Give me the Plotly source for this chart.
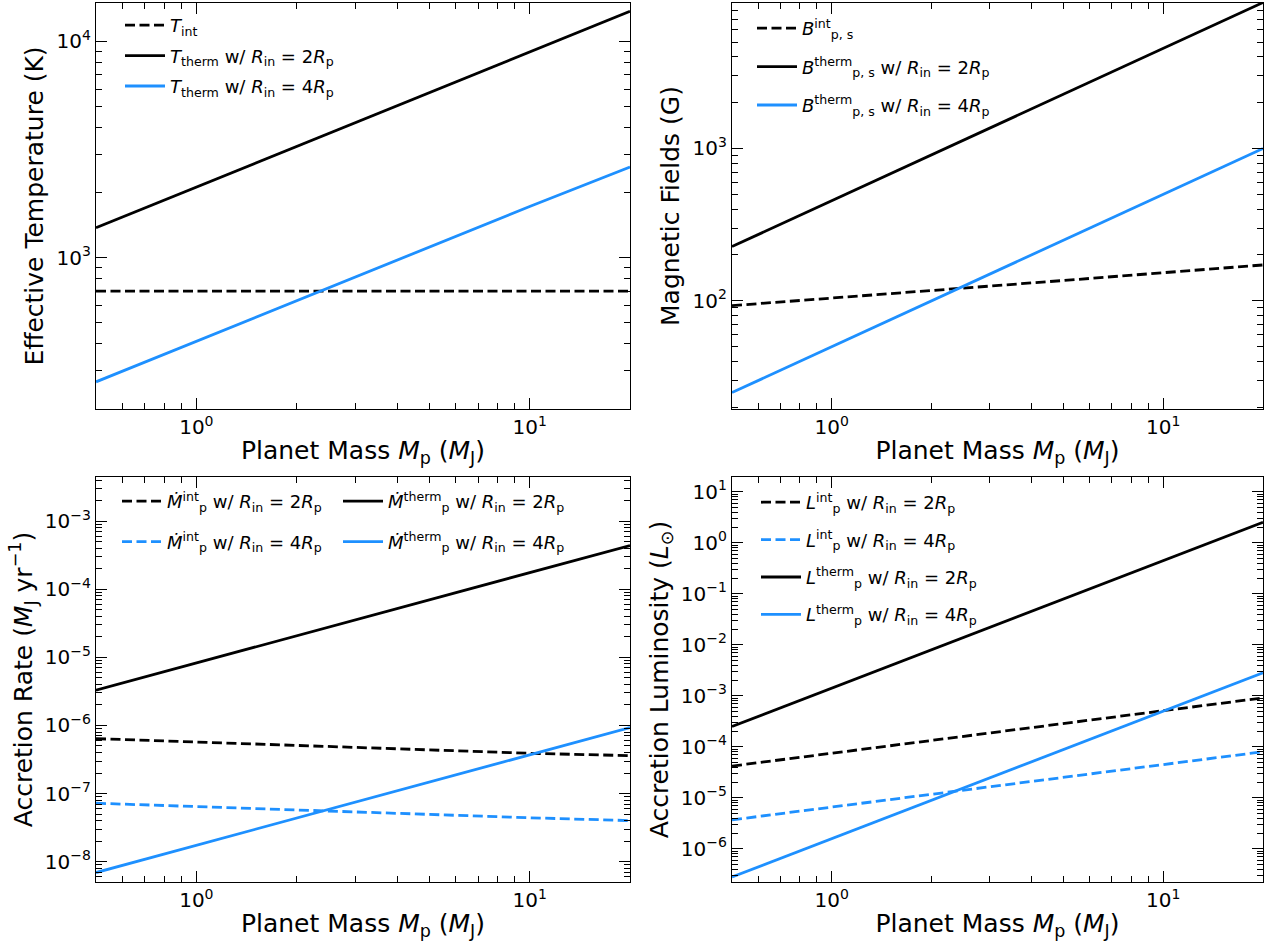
import plotly.graph_objects as go
import numpy as np

# ---------------- data ----------------
mass = [0.5, 1, 2, 5, 10, 20]

T_int = [700, 700, 700, 700, 700, 700]
T_therm_2 = [1374, 2120, 3270, 5780, 8910, 13740]
T_therm_4 = [267, 411, 632, 1119, 1722, 2620]

B_int = [93, 104, 117, 136, 153, 172]
B_therm_2 = [227, 454, 908, 2270, 4540, 9080]
B_therm_4 = [25, 50, 100, 250, 500, 1000]

Mdot_int_2 = [6.4e-7, 5.7e-7, 5.1e-7, 4.4e-7, 3.9e-7, 3.6e-7]
Mdot_int_4 = [7.2e-8, 6.4e-8, 5.7e-8, 4.9e-8, 4.4e-8, 4.0e-8]
Mdot_therm_2 = [3.3e-6, 8.3e-6, 2.1e-5, 7.0e-5, 1.76e-4, 4.4e-4]
Mdot_therm_4 = [6.9e-9, 1.74e-8, 4.4e-8, 1.47e-7, 3.7e-7, 9.3e-7]

L_int_2 = [4.2e-5, 7.5e-5, 1.33e-4, 2.86e-4, 5.1e-4, 9.1e-4]
L_int_4 = [3.7e-6, 6.6e-6, 1.17e-5, 2.52e-5, 4.5e-5, 8.0e-5]
L_therm_2 = [2.5e-4, 1.41e-3, 8.0e-3, 7.9e-2, 0.447, 2.53]
L_therm_4 = [2.8e-7, 1.58e-6, 8.96e-6, 8.85e-5, 5.0e-4, 2.83e-3]

x_ticks = [1, 10]
x_ticktext = ["10<sup>0</sup>", "10<sup>1</sup>"]

BLACK = "black"
BLUE = "#1E90FF"
FONT = "DejaVu Sans"
W, H = 1265, 941

fig = go.Figure()
_count = [0]

def add(x, y, color, dash, name, xa, ya, legend):
    _count[0] += 1
    fig.add_trace(go.Scatter(
        x=x, y=y, mode="lines", name=name,
        line=dict(color=color, width=2.8, dash=("10px,4.5px" if dash else "solid")),
        xaxis=xa, yaxis=ya, legend=legend, legendgroup="g%d" % _count[0], showlegend=True))

# panel 1
add(mass, T_int, BLACK, True, "<i>T</i><sub>int</sub>", "x", "y", "legend")
add(mass, T_therm_2, BLACK, False, "<i>T</i><sub>therm</sub> w/ <i>R</i><sub>in</sub> = 2<i>R</i><sub>p</sub>", "x", "y", "legend")
add(mass, T_therm_4, BLUE, False, "<i>T</i><sub>therm</sub> w/ <i>R</i><sub>in</sub> = 4<i>R</i><sub>p</sub>", "x", "y", "legend")
# panel 2
add(mass, B_int, BLACK, True, "<i>B</i><sup>int</sup><sub>p, s</sub>", "x2", "y2", "legend2")
add(mass, B_therm_2, BLACK, False, "<i>B</i><sup>therm</sup><sub>p, s</sub> w/ <i>R</i><sub>in</sub> = 2<i>R</i><sub>p</sub>", "x2", "y2", "legend2")
add(mass, B_therm_4, BLUE, False, "<i>B</i><sup>therm</sup><sub>p, s</sub> w/ <i>R</i><sub>in</sub> = 4<i>R</i><sub>p</sub>", "x2", "y2", "legend2")
# panel 3
add(mass, Mdot_int_2, BLACK, True, "<i>Ṁ</i><sup>int</sup><sub>p</sub> w/ <i>R</i><sub>in</sub> = 2<i>R</i><sub>p</sub>", "x3", "y3", "legend3")
add(mass, Mdot_int_4, BLUE, True, "<i>Ṁ</i><sup>int</sup><sub>p</sub> w/ <i>R</i><sub>in</sub> = 4<i>R</i><sub>p</sub>", "x3", "y3", "legend3")
add(mass, Mdot_therm_2, BLACK, False, "<i>Ṁ</i><sup>therm</sup><sub>p</sub> w/ <i>R</i><sub>in</sub> = 2<i>R</i><sub>p</sub>", "x3", "y3", "legend4")
add(mass, Mdot_therm_4, BLUE, False, "<i>Ṁ</i><sup>therm</sup><sub>p</sub> w/ <i>R</i><sub>in</sub> = 4<i>R</i><sub>p</sub>", "x3", "y3", "legend4")
# panel 4
add(mass, L_int_2, BLACK, True, "<i>L</i><sup>int</sup><sub>p</sub> w/ <i>R</i><sub>in</sub> = 2<i>R</i><sub>p</sub>", "x4", "y4", "legend5")
add(mass, L_int_4, BLUE, True, "<i>L</i><sup>int</sup><sub>p</sub> w/ <i>R</i><sub>in</sub> = 4<i>R</i><sub>p</sub>", "x4", "y4", "legend5")
add(mass, L_therm_2, BLACK, False, "<i>L</i><sup>therm</sup><sub>p</sub> w/ <i>R</i><sub>in</sub> = 2<i>R</i><sub>p</sub>", "x4", "y4", "legend5")
add(mass, L_therm_4, BLUE, False, "<i>L</i><sup>therm</sup><sub>p</sub> w/ <i>R</i><sub>in</sub> = 4<i>R</i><sub>p</sub>", "x4", "y4", "legend5")

def minors(lo, hi):
    out = []
    for e in range(int(np.floor(lo)) - 1, int(np.ceil(hi)) + 1):
        for m in range(2, 10):
            out.append(m * 10.0 ** e)
    return out

def sup(e):
    return "10<sup>" + (str(e) if e >= 0 else "\u2212" + str(-e)) + "</sup>"

TITLE_FONT = dict(family=FONT, size=25, color="black")
TICK_FONT = dict(family=FONT, size=20, color="black")
MINOR = dict(ticks="inside", ticklen=5.5, tickwidth=1, tickcolor="black", showgrid=False)

def xaxis(dom, anchor):
    return dict(type="log", domain=dom, anchor=anchor, range=[np.log10(0.5), np.log10(20)],
                tickvals=x_ticks, ticktext=x_ticktext, ticks="inside", ticklen=10.5, tickwidth=1.2,
                tickcolor="black", showline=True, linecolor="black", linewidth=1.3, mirror="allticks",
                showgrid=False, zeroline=False, tickfont=TICK_FONT,
                minor=dict(tickvals=minors(-1, 2), **MINOR),
                title=dict(text="Planet Mass <i>M</i><sub>p</sub> (<i>M</i><sub>J</sub>)",
                           font=TITLE_FONT, standoff=3),
                automargin=False)

def yaxis(dom, anchor, lo, hi, exps, title):
    return dict(type="log", domain=dom, anchor=anchor, range=[lo, hi],
                tickvals=[10.0 ** e for e in exps], ticktext=[sup(e) for e in exps],
                ticks="inside", ticklen=10.5, tickwidth=1.2, tickcolor="black",
                showline=True, linecolor="black", linewidth=1.3, mirror="allticks",
                showgrid=False, zeroline=False, tickfont=TICK_FONT,
                minor=dict(tickvals=minors(lo, hi), **MINOR),
                title=dict(text=title, font=TITLE_FONT, standoff=5),
                automargin=False)

xl = [96 / W, 630 / W]
xr = [732 / W, 1263 / W]
yt = [1 - 409 / H, 1 - 3 / H]
yb = [1 - 882 / H, 1 - 477 / H]

def leg(x, y, gap):
    return dict(x=x / W, y=1 - y / H, font=dict(family=FONT, size=18, color="black"),
                bgcolor="rgba(0,0,0,0)", xanchor="left", yanchor="top",
                tracegroupgap=gap, itemwidth=40)

fig.update_layout(
    width=W, height=H, margin=dict(l=0, r=0, t=0, b=0),
    paper_bgcolor="white", plot_bgcolor="white",
    font=dict(family=FONT, color="black"),
    xaxis=xaxis(xl, "y"), yaxis=yaxis(yt, "x", np.log10(200), np.log10(15000), [3, 4], "Effective Temperature (K)"),
    xaxis2=xaxis(xr, "y2"), yaxis2=yaxis(yt, "x2", 1.29, 3.955, [2, 3], "Magnetic Fields (G)"),
    xaxis3=xaxis(xl, "y3"), yaxis3=yaxis(yb, "x3", -8.3, -2.35, [-8, -7, -6, -5, -4, -3],
                                         "Accretion Rate (<i>M</i><sub>J</sub> yr<sup>\u22121</sup>)"),
    xaxis4=xaxis(xr, "y4"), yaxis4=yaxis(yb, "x4", -6.65, 1.29, [-6, -5, -4, -3, -2, -1, 0, 1],
                                         "Accretion Luminosity (<i>L</i><sub>\u2299</sub>)"),
    legend=dict(**leg(120, 7, 4)),
    legend2=dict(**leg(752, 10, 12)),
    legend3=dict(**leg(117, 483, 14)),
    legend4=dict(**leg(338, 483, 14)),
    legend5=dict(**leg(756, 484, 11)),
    showlegend=True,
)

fig.write_html("out.html")
